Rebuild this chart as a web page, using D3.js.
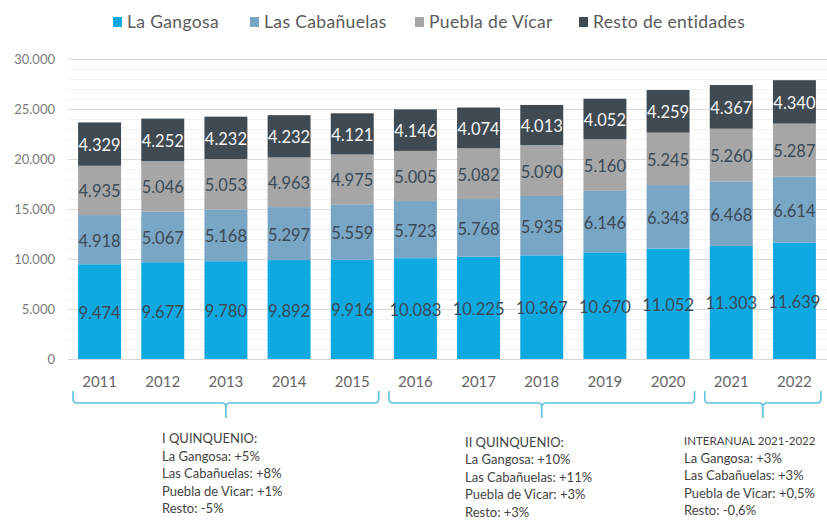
<!DOCTYPE html>
<html>
<head>
<meta charset="utf-8">
<script src="https://cdn.jsdelivr.net/npm/d3@7/dist/d3.min.js"></script>
<style>
  html, body { margin: 0; padding: 0; background: #ffffff; }
  svg { display: block; font-family: Lato, "Open Sans", sans-serif; }
</style>
</head>
<body>
<svg id="chart" width="827" height="520"></svg>
<script>
// ---------- DATA ----------
const years = ["2011","2012","2013","2014","2015","2016","2017","2018","2019","2020","2021","2022"];
const seriesNames = ["La Gangosa", "Las Cabañuelas", "Puebla de Vícar", "Resto de entidades"];
const laGangosa     = [9474, 9677, 9780, 9892, 9916, 10083, 10225, 10367, 10670, 11052, 11303, 11639];
const lasCabanuelas = [4918, 5067, 5168, 5297, 5559, 5723, 5768, 5935, 6146, 6343, 6468, 6614];
const pueblaVicar   = [4935, 5046, 5053, 4963, 4975, 5005, 5082, 5090, 5160, 5245, 5260, 5287];
const restoEntidades= [4329, 4252, 4232, 4232, 4121, 4146, 4074, 4013, 4052, 4259, 4367, 4340];
const yTicks = [0, 5000, 10000, 15000, 20000, 25000, 30000];
const yTickLabels = ["0", "5.000", "10.000", "15.000", "20.000", "25.000", "30.000"];
const groupFrom = ["2011", "2016", "2021"];
const groupTo   = ["2015", "2020", "2022"];
const note1 = ["I QUINQUENIO:", "La Gangosa: +5%", "Las Cabañuelas: +8%", "Puebla de Vicar: +1%", "Resto: -5%"];
const note2 = ["II QUINQUENIO:", "La Gangosa: +10%", "Las Cabañuelas: +11%", "Puebla de Vicar: +3%", "Resto: +3%"];
const note3 = ["INTERANUAL 2021-2022", "La Gangosa: +3%", "Las Cabañuelas: +3%", "Puebla de Vicar: +0,5%", "Resto: -0,6%"];

// ---------- STYLE ----------
const colors = ["#0ea9e1", "#7aa6c6", "#a6a6a6", "#3f4a52"];
const labelColors = ["#3a4a56", "#3a4a56", "#3a4a56", "#f4f4f4"];
const braceColor = "#5cc2e0";

const svg = d3.select("#chart");

// scales
const x = d3.scaleBand().domain(years).range([68, 826]).paddingInner(0.32).paddingOuter(0.16);
const y = d3.scaleLinear().domain([0, 30000]).range([359, 59]);

// rows for stack
const rows = years.map((yr, i) => ({
  year: yr, s0: laGangosa[i], s1: lasCabanuelas[i], s2: pueblaVicar[i], s3: restoEntidades[i]
}));
const keys = ["s0", "s1", "s2", "s3"];
const stacked = d3.stack().keys(keys)(rows);

// minor gridlines
const minor = d3.range(1000, 30001, 1000).filter(v => v % 5000 !== 0);
svg.append("g").selectAll("line").data(minor).join("line")
  .attr("x1", 68).attr("x2", 827)
  .attr("y1", d => y(d) + 0.5).attr("y2", d => y(d) + 0.5)
  .attr("stroke", "#f1f1f1").attr("stroke-width", 1);

// major gridlines + y axis
const yAxis = d3.axisLeft(y).tickValues(yTicks)
  .tickFormat((d, i) => yTickLabels[i]).tickSize(0).tickPadding(13);
const gy = svg.append("g").attr("transform", "translate(68,0)").call(yAxis);
gy.select(".domain").remove();
gy.selectAll("text").attr("font-size", 13).attr("fill", "#7a7a7a")
  .attr("font-family", "Lato, sans-serif");
svg.append("g").selectAll("line").data(yTicks).join("line")
  .attr("x1", 68).attr("x2", 827)
  .attr("y1", d => y(d) + 0.5).attr("y2", d => y(d) + 0.5)
  .attr("stroke", d => d === 0 ? "#d6d6d6" : "#dcdcdc").attr("stroke-width", 1);

// bars
const layers = svg.append("g").selectAll("g").data(stacked).join("g")
  .attr("fill", (d, i) => colors[i]);
layers.selectAll("rect").data(d => d).join("rect")
  .attr("x", d => x(d.data.year))
  .attr("width", x.bandwidth())
  .attr("y", d => y(d[1]))
  .attr("height", d => y(d[0]) - y(d[1]));

// value labels
const fmt = v => d3.format(",")(v).replace(/,/g, ".");
const lab = svg.append("g").selectAll("g").data(stacked).join("g")
  .attr("fill", (d, i) => labelColors[i]);
lab.selectAll("text").data(d => d).join("text")
  .attr("x", d => x(d.data.year) + x.bandwidth() / 2)
  .attr("y", d => (y(d[0]) + y(d[1])) / 2 + 1)
  .attr("text-anchor", "middle")
  .attr("dominant-baseline", "central")
  .attr("font-size", 16.5)
  .text(d => fmt(d[1] - d[0]));

// x axis labels
const xAxis = d3.axisBottom(x).tickSize(0).tickPadding(17);
const gx = svg.append("g").attr("transform", "translate(0,359)").call(xAxis);
gx.select(".domain").remove();
gx.selectAll("text").attr("font-size", 15).attr("fill", "#666")
  .attr("font-family", "Lato, sans-serif");

// braces
const braces = groupFrom.map((f, i) => ({
  x0: x(f) - 5, x1: x(groupTo[i]) + x.bandwidth() + 5
}));
svg.append("g").selectAll("path").data(braces).join("path")
  .attr("fill", "none").attr("stroke", braceColor).attr("stroke-width", 1.6)
  .attr("d", b => {
    const cx = (b.x0 + b.x1) / 2, top = 391, mid = 403, tip = 418, r = 4;
    return `M${b.x0},${top} L${b.x0},${mid - r} Q${b.x0},${mid} ${b.x0 + r},${mid}` +
      ` L${cx - r},${mid} Q${cx},${mid} ${cx},${mid + r} L${cx},${tip}` +
      ` M${cx},${mid + r} Q${cx},${mid} ${cx + r},${mid}` +
      ` L${b.x1 - r},${mid} Q${b.x1},${mid} ${b.x1},${mid - r} L${b.x1},${top}`;
  });

// notes
const notes = [
  { lines: note1, x: 162, y: 443 },
  { lines: note2, x: 465, y: 446.5 },
  { lines: note3, x: 684, y: 445 }
];
notes.forEach(n => {
  svg.append("g").selectAll("text").data(n.lines).join("text")
    .attr("x", n.x).attr("y", (d, i) => n.y + i * 17.6)
    .attr("font-size", 13).attr("fill", "#444")
    .text(d => d)
    .each(function () {
      const maxW = 816 - n.x;
      const w = this.getComputedTextLength();
      if (w > maxW) {
        d3.select(this).attr("font-size", Math.floor(13 * maxW / w * 10) / 10);
      }
    });
});

// legend
const legendX = [113, 250, 415, 579];
const lg = svg.append("g").selectAll("g").data(seriesNames).join("g")
  .attr("transform", (d, i) => `translate(${legendX[i]},0)`);
lg.append("rect").attr("x", 0).attr("y", 17).attr("width", 9).attr("height", 10)
  .attr("fill", (d, i) => colors[i]);
lg.append("text").attr("x", 14).attr("y", 28).attr("font-size", 17.5)
  .attr("letter-spacing", 0.35)
  .attr("fill", "#5a5a5a").text(d => d);
</script>
</body>
</html>
